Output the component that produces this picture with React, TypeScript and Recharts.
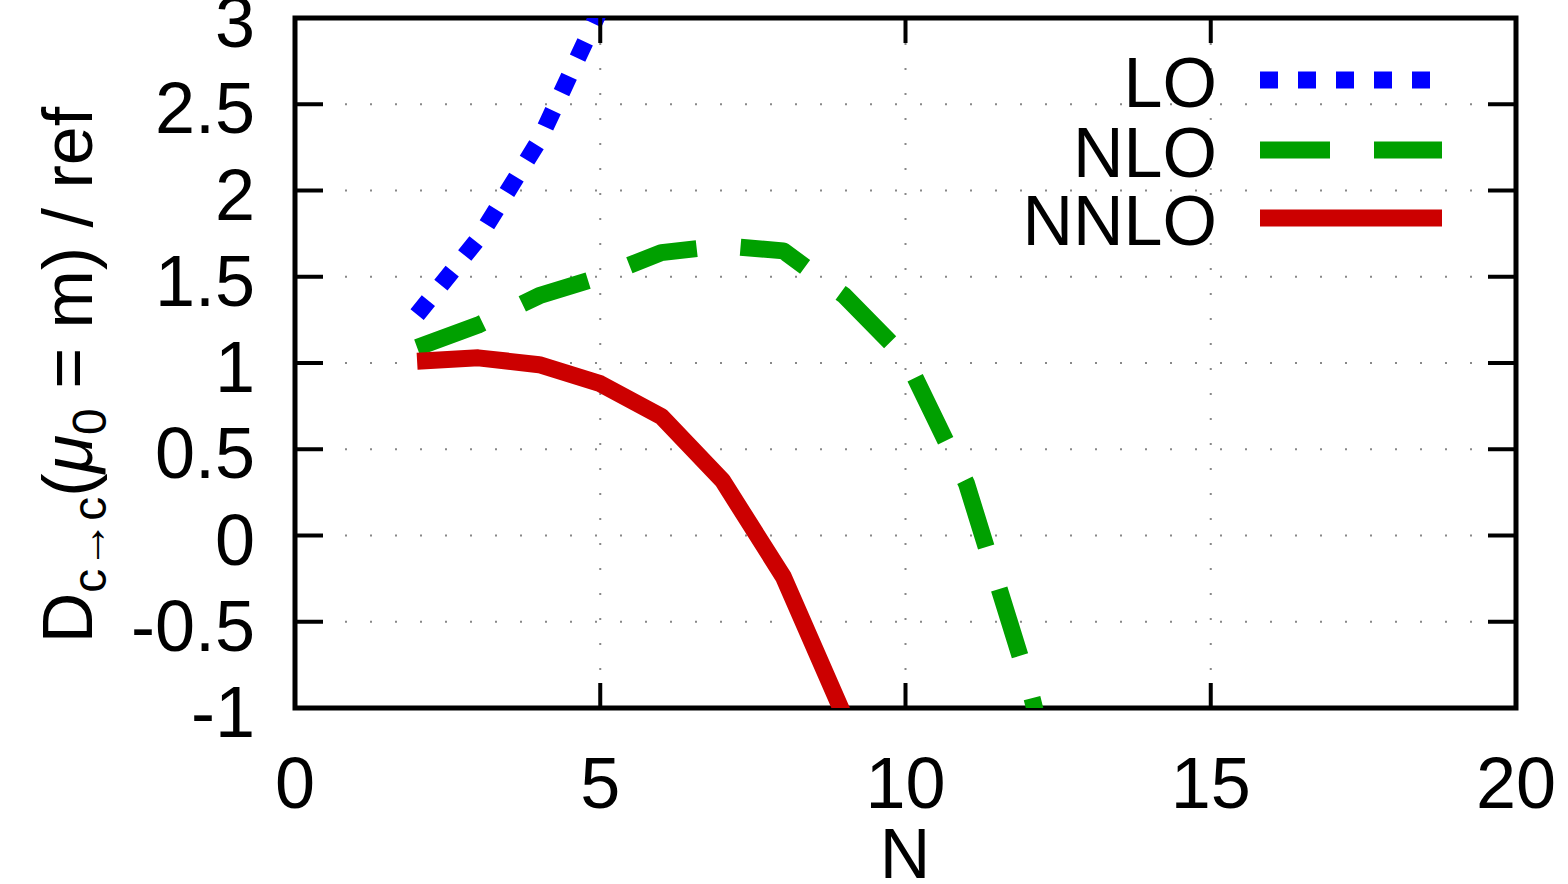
import { LineChart, Line, XAxis, YAxis, CartesianGrid, ReferenceArea } from "recharts"

// N values and curve values
const nValues = [2, 3, 4, 5, 6, 7, 8, 9, 10, 11, 12, 13]
const loValues = [1.28, 1.72, 2.29, 3.05, 3.95]
const nloValues = [1.09, 1.22, 1.39, 1.5, 1.64, 1.68, 1.65, 1.39, 1.03, 0.3, -0.84, -2.25]
const nnloValues = [1.01, 1.03, 0.99, 0.88, 0.69, 0.32, -0.24, -1.05, -2.3]

const xTicks = [0, 5, 10, 15, 20]
const yTicks = [-1, -0.5, 0, 0.5, 1, 1.5, 2, 2.5, 3]

const seriesNames = ["LO", "NLO", "NNLO"]

const data = nValues.map((n, i) => ({
  n,
  lo: loValues[i],
  nlo: nloValues[i],
  nnlo: nnloValues[i],
}))

const FONT = "'Liberation Sans', Arial, Helvetica, sans-serif"
const W = 1568
const H = 884
const LEFT = 295
const RIGHT = 1516
const TOP = 18
const BOTTOM = 708

const styles = [
  { key: "lo", color: "#0000ff", dash: "18 20" },
  { key: "nlo", color: "#00a000", dash: "70 44" },
  { key: "nnlo", color: "#cc0000", dash: undefined },
]

function XTick(props: any) {
  const x = props.x
  const inner = props.payload.value !== 0 && props.payload.value !== 20
  return (
    <g>
      {inner && <line x1={x} x2={x} y1={BOTTOM} y2={BOTTOM - 25} stroke="#000" strokeWidth={4} />}
      {inner && <line x1={x} x2={x} y1={TOP} y2={TOP + 25} stroke="#000" strokeWidth={4} />}
      <text x={x} y={808} textAnchor="middle" fontSize={72} fontFamily={FONT} fill="#000">
        {props.payload.value}
      </text>
    </g>
  )
}

function YTick(props: any) {
  const y = props.y
  const inner = props.payload.value !== -1 && props.payload.value !== 3
  return (
    <g>
      {inner && <line x1={LEFT} x2={LEFT + 28} y1={y} y2={y} stroke="#000" strokeWidth={4} />}
      {inner && <line x1={RIGHT} x2={RIGHT - 28} y1={y} y2={y} stroke="#000" strokeWidth={4} />}
      <text x={255} y={y + 29} textAnchor="end" fontSize={72} fontFamily={FONT} fill="#000">
        {props.payload.value}
      </text>
    </g>
  )
}

export default function App() {
  return (
    <div style={{ position: "absolute", left: 0, top: 0, width: W, height: H, background: "#fff" }}>
      <LineChart width={W} height={H} data={data} margin={{ top: TOP, right: W - RIGHT, bottom: 0, left: 0 }}>
        <CartesianGrid stroke="#888" strokeWidth={2} strokeDasharray="2 23" />
        <XAxis
          dataKey="n"
          type="number"
          domain={[0, 20]}
          ticks={xTicks}
          allowDataOverflow
          height={H - BOTTOM}
          tickLine={false}
          axisLine={false}
          tick={<XTick />}
          interval={0}
        />
        <YAxis
          type="number"
          domain={[-1, 3]}
          ticks={yTicks}
          allowDataOverflow
          width={LEFT}
          tickLine={false}
          axisLine={false}
          tick={<YTick />}
          interval={0}
        />
        {styles.map((s) => (
          <Line
            key={s.key}
            dataKey={s.key}
            type="linear"
            stroke={s.color}
            strokeWidth={17}
            strokeDasharray={s.dash}
            strokeLinecap="butt"
            strokeLinejoin="round"
            dot={false}
            activeDot={false}
            isAnimationActive={false}
          />
        ))}
        <ReferenceArea x1={0} x2={20} y1={-1} y2={3} fill="none" fillOpacity={0} stroke="#000" strokeWidth={5} />
      </LineChart>
      <svg
        width={W}
        height={H}
        style={{ position: "absolute", left: 0, top: 0, pointerEvents: "none" }}
        fontFamily={FONT}
      >
        <text transform="translate(92,375) rotate(-90)" textAnchor="middle" fontSize={70} fill="#000">
          D
          <tspan dy={14} fontSize={48}>c→c</tspan>
          <tspan dy={-14}>(</tspan>
          <tspan fontStyle="italic">μ</tspan>
          <tspan dy={14} fontSize={48}>0</tspan>
          <tspan dy={-14}> = m) / ref</tspan>
        </text>
        <text x={905} y={878} textAnchor="middle" fontSize={70} fill="#000">N</text>
        {seriesNames.map((name, i) => {
          const cy = [80, 150, 218][i]
          const s = styles[i]
          return (
            <g key={name}>
              <text x={1217} y={cy + 27} textAnchor="end" fontSize={70} fill="#000">{name}</text>
              <line x1={1260} x2={i === 0 ? 1432 : 1442} y1={cy} y2={cy} stroke={s.color} strokeWidth={17} strokeDasharray={s.dash} />
            </g>
          )
        })}
      </svg>
    </div>
  )
}
